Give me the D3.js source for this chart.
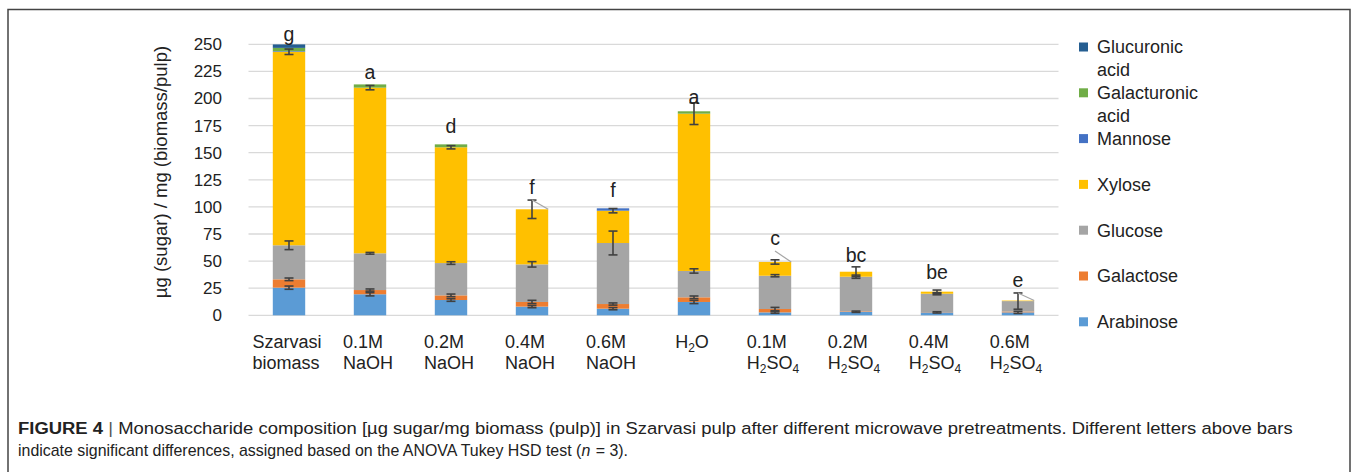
<!DOCTYPE html>
<html><head><meta charset="utf-8">
<script src="https://cdn.jsdelivr.net/npm/d3@7"></script>
<style>body{margin:0;background:#fff}svg{display:block}text{font-family:"Liberation Sans",Arial,sans-serif}</style>
</head><body>
<svg id="c" width="1357" height="472"></svg>
<script>
const categories = ["Szarvasi biomass","0.1M NaOH","0.2M NaOH","0.4M NaOH","0.6M NaOH","H2O","0.1M H2SO4","0.2M H2SO4","0.4M H2SO4","0.6M H2SO4"];
const labelLine1 = ["Szarvasi","0.1M","0.2M","0.4M","0.6M","H2O","0.1M","0.2M","0.4M","0.6M"];
const labelLine2 = ["biomass","NaOH","NaOH","NaOH","NaOH","","H2SO4","H2SO4","H2SO4","H2SO4"];
const arabinose    = [25.5, 19.4, 14.1, 8.0, 6.1, 12.3, 2.7, 3.3, 2.7, 2.7];
const galactose    = [7.7, 3.9, 4.3, 4.3, 4.3, 4.3, 3.1, 0.5, 0.3, 0.8];
const glucose      = [31.4, 33.9, 29.8, 34.7, 56.3, 24.3, 30.7, 31.8, 16.9, 9.6];
const xylose       = [178.5, 152.8, 106.8, 50.8, 29.8, 145.1, 12.7, 4.6, 1.9, 0.5];
const mannose      = [0.6, 0, 0, 0, 2.2, 0, 0, 0, 0, 0];
const galacturonic = [3.0, 3.0, 2.7, 0, 0, 2.2, 0, 0, 0, 0];
const glucuronic   = [3.2, 0, 0, 0, 0, 0, 0, 0, 0, 0];
const arabinoseErr = [1.5, 1.5, 1.2, 1.0, 1.0, 1.5, 0.8, 0.6, 0.6, 1.0];
const galactoseErr = [1.2, 1.0, 1.2, 1.5, 1.0, 1.2, 1.5, 0, 0, 0];
const glucoseErr   = [4, 0.8, 1.2, 2.5, 11, 2, 1, 1.5, 1, 7.5];
const xyloseErr    = [2.5, 2, 1.5, 8.5, 2, 10, 2, 4.5, 1.5, 0];
const letters      = ["g","a","d","f","f","a","c","bc","be","e"];
const letterPos    = [259.5, 224.4, 174.6, 118.4, 115.6, 201.4, 71.3, 55.6, 40, 32.6];
const leader       = [false,false,false,true,false,false,true,false,false,true];
const yTicks = [0,25,50,75,100,125,150,175,200,225,250];
const caption1 = [["FIGURE 4","bold"],[" | ","sep"],["Monosaccharide composition [µg sugar/mg biomass (pulp)] in Szarvasi pulp after different microwave pretreatments. Different letters above bars","normal"]];
const caption2 = [["indicate significant differences, assigned based on the ANOVA Tukey HSD test (","normal"],["n","italic"],[" = 3).","normal"]];

const series = [
  {name:"Arabinose", values:arabinose, err:arabinoseErr, color:"#5B9BD5"},
  {name:"Galactose", values:galactose, err:galactoseErr, color:"#ED7D31"},
  {name:"Glucose", values:glucose, err:glucoseErr, color:"#A5A5A5"},
  {name:"Xylose", values:xylose, err:xyloseErr, color:"#FFC000"},
  {name:"Mannose", values:mannose, err:null, color:"#4472C4"},
  {name:"Galacturonic acid", values:galacturonic, err:null, color:"#70AD47", lines:["Galacturonic","acid"]},
  {name:"Glucuronic acid", values:glucuronic, err:null, color:"#255E91", lines:["Glucuronic","acid"]}
];

const svg = d3.select("#c");
const x = d3.scaleBand().domain(categories).range([248.5,1058.5]).paddingInner(0.6).paddingOuter(0.3);
const y = d3.scaleLinear().domain([0,250]).range([315.3,44.3]);

// frame
svg.append("path").attr("d","M8,480 L8,9.5 L1350,9.5 L1350,480").attr("fill","none").attr("stroke","#444").attr("stroke-width",1.5);

// gridlines
svg.append("g").selectAll("line").data(yTicks).join("line")
  .attr("x1",248.5).attr("x2",1058.5).attr("y1",d=>y(d)).attr("y2",d=>y(d))
  .attr("stroke","#D9D9D9").attr("stroke-width",1.3);

// y axis tick labels
const yAxis = d3.axisLeft(y).tickValues(yTicks).tickSize(0).tickPadding(0);
const ya = svg.append("g").attr("transform","translate(222,0)").call(yAxis);
ya.select(".domain").remove();
ya.selectAll("text").attr("font-size",17).attr("fill","#222");

svg.append("text").attr("transform","translate(167,172) rotate(-90)").attr("text-anchor","middle")
  .attr("font-size",18.5).attr("fill","#222").text("µg (sugar) / mg (biomass/pulp)");

// stacked bars
const stackData = categories.map((c,i)=>{const o={cat:c}; series.forEach(s=>o[s.name]=s.values[i]); return o;});
const stack = d3.stack().keys(series.map(s=>s.name))(stackData);
stack.forEach((layer,si)=>{
  svg.append("g").selectAll("rect").data(layer).join("rect")
    .attr("x",d=>x(d.data.cat)).attr("width",x.bandwidth())
    .attr("y",d=>y(d[1])).attr("height",d=>y(d[0])-y(d[1]))
    .attr("fill",series[si].color);
});
// error bars
stack.forEach((layer,si)=>{
  const s = series[si]; if(!s.err) return;
  layer.forEach((d,i)=>{
    const e = s.err[i]; if(!e || !s.values[i]) return;
    const cx = x(d.data.cat)+x.bandwidth()/2;
    const g = svg.append("g").attr("stroke","#404040").attr("stroke-width",1.6);
    g.append("line").attr("x1",cx).attr("x2",cx).attr("y1",y(d[1]+e)).attr("y2",y(Math.max(0,d[1]-e)));
    g.append("line").attr("x1",cx-4.5).attr("x2",cx+4.5).attr("y1",y(d[1]+e)).attr("y2",y(d[1]+e));
    g.append("line").attr("x1",cx-4.5).attr("x2",cx+4.5).attr("y1",y(Math.max(0,d[1]-e))).attr("y2",y(Math.max(0,d[1]-e)));
  });
});
// letters
const tops = categories.map((c,i)=>d3.sum(series,s=>s.values[i]));
categories.forEach((c,i)=>{
  const cx = x(c)+x.bandwidth()/2;
  svg.append("text").attr("x",cx).attr("y",y(letterPos[i])).attr("dy","0.35em").attr("text-anchor","middle")
    .attr("font-size",19.5).attr("fill","#222").text(letters[i]);
  if(leader[i]){
    svg.append("line").attr("x1",cx).attr("y1",y(letterPos[i])+13).attr("x2",x(c)+x.bandwidth()).attr("y2",y(tops[i]))
      .attr("stroke","#A6A6A6").attr("stroke-width",1.2);
  }
});

// x labels
function addChem(sel, str){
  if(/^H\d/.test(str)){
    let sub = false;
    str.split(/(\d)/).filter(p=>p!=="").forEach(p=>{
      if(/^\d$/.test(p)){ sel.append("tspan").attr("font-size",12).attr("dy",4).text(p); sub = true; }
      else { sel.append("tspan").attr("dy", sub ? -4 : 0).text(p); sub = false; }
    });
  } else sel.text(str);
}
categories.forEach((c,i)=>{
  const cx = x(c)+x.bandwidth()/2;
  const g = svg.append("g").attr("font-size",18).attr("fill","#222");
  const t1 = g.append("text").attr("x",0).attr("y",348); addChem(t1,labelLine1[i]);
  const t2 = g.append("text").attr("x",0).attr("y",369); addChem(t2,labelLine2[i]);
  const w = Math.max(t1.node().getComputedTextLength(), labelLine2[i]?t2.node().getComputedTextLength():0);
  g.attr("transform",`translate(${cx-w/2-2},0)`);
});

// legend
series.slice().reverse().forEach((s,i)=>{
  const cy = 47 + i*45.8;
  svg.append("rect").attr("x",1079).attr("y",cy-4.5).attr("width",9).attr("height",9).attr("fill",s.color);
  const lines = s.lines || [s.name];
  lines.forEach((l,j)=>{
    svg.append("text").attr("x",1097).attr("y",cy+j*23).attr("dy","0.35em").attr("font-size",18).attr("fill","#222").text(l);
  });
});

// caption: pieces laid out naturally, line group scaled horizontally to fit
function captionLine(parts, yy, totalW){
  const g = svg.append("g");
  let cx = 0;
  parts.forEach(([t,st])=>{
    const e = g.append("text").attr("x",cx).attr("y",0).attr("font-size",17).attr("fill", st==="sep"?"#555":"#222")
      .attr("xml:space","preserve").style("white-space","pre").text(t);
    if(st==="bold") e.attr("font-weight","bold");
    if(st==="italic") e.attr("font-style","italic");
    cx += e.node().getComputedTextLength() + (st==="italic" ? 1 : 0);
  });
  g.attr("transform",`translate(18,${yy}) scale(${totalW/cx},1)`);
}
captionLine(caption1, 434, 1276);
captionLine(caption2, 456, 610);
</script>
</body></html>
